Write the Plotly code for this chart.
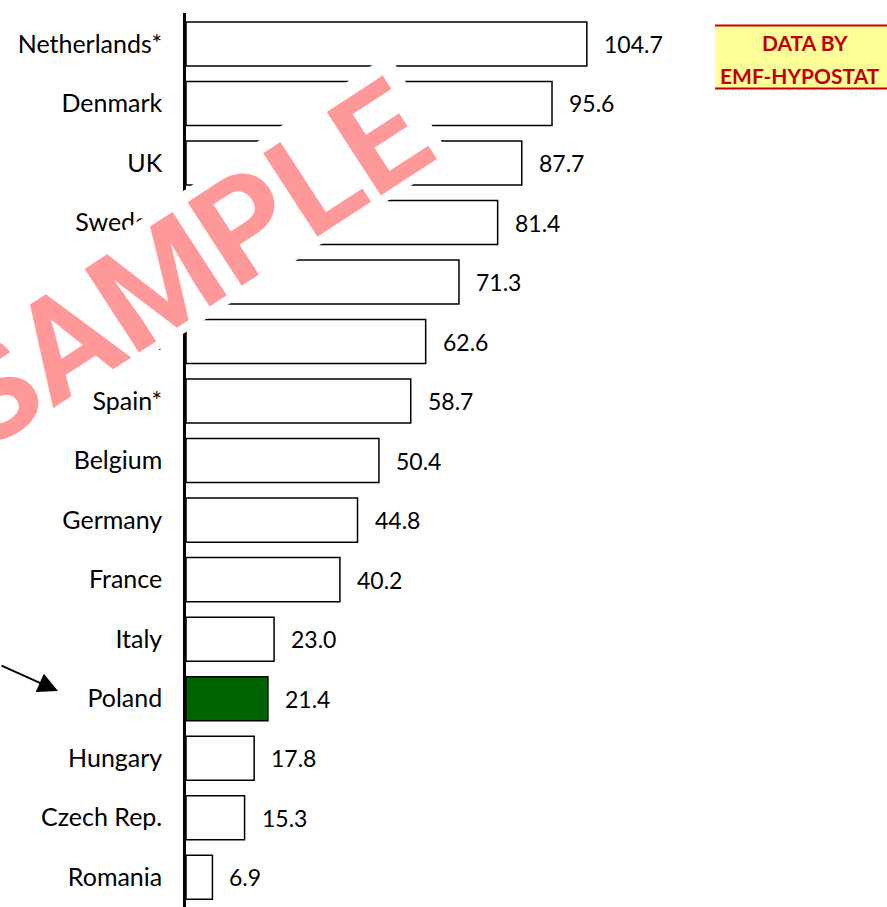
import plotly.graph_objects as go

# ---- data ----
countries = ["Netherlands*", "Denmark", "UK", "Sweden", "Ireland", "Portugal", "Spain*",
             "Belgium", "Germany", "France", "Italy", "Poland", "Hungary", "Czech Rep.", "Romania"]
values = [104.7, 95.6, 87.7, 81.4, 71.3, 62.6, 58.7, 50.4, 44.8, 40.2, 23.0, 21.4, 17.8, 15.3, 6.9]
highlight = "Poland"
value_labels = [f"{v:.1f}" for v in values]
badge_lines = ["DATA BY", "EMF-HYPOSTAT"]
watermark = "SAMPLE"

# ---- layout geometry ----
FIG_W, FIG_H = 887, 907
L, R, T, B = 186, 165, 13, 0
PW = FIG_W - L - R
PH = FIG_H - T - B


def px(x):
    return (x - L) / PW


def py(y):
    return (FIG_H - B - y) / PH


FONT = "Lato"

colors = ["#006400" if c == highlight else "white" for c in countries]

fig = go.Figure(
    go.Bar(
        x=values, y=countries, orientation="h",
        marker=dict(color=colors, line=dict(color="black", width=1.5)),
        width=0.74, hoverinfo="skip",
    )
)

annotations = []
for c, v, t in zip(countries, values, value_labels):
    annotations.append(dict(x=v, y=c, xref="x", yref="y", text=t, showarrow=False,
                            xanchor="left", yanchor="middle", xshift=15,
                            font=dict(family=FONT, size=23, color="black")))

# badge text
annotations.append(dict(x=px(805), y=py(42), xref="paper", yref="paper", text=badge_lines[0],
                        showarrow=False, xanchor="center", yanchor="middle",
                        font=dict(family=FONT, size=21, color="#C00000", weight="bold")))
annotations.append(dict(x=px(800), y=py(76), xref="paper", yref="paper", text=badge_lines[1],
                        showarrow=False, xanchor="center", yanchor="middle",
                        font=dict(family=FONT, size=21, color="#C00000", weight="bold")))

# arrow pointing at Poland
annotations.append(dict(x=px(58), y=py(691), xref="paper", yref="paper", text="",
                        showarrow=True, ax=-58, ay=-26, arrowhead=2, arrowsize=2,
                        arrowwidth=2, arrowcolor="black", standoff=0))

# watermark text
annotations.append(dict(x=px(184), y=py(266), xref="paper", yref="paper", text=watermark,
                        showarrow=False, xanchor="center", yanchor="middle", textangle=-33,
                        font=dict(family="Roboto", size=140, color="rgba(255,0,0,0.4)",
                                  weight="bold")))

# watermark white patch polygon
pts = [(389, 54), (452, 159), (-300, 648), (-300, 513)]
path = "M " + " L ".join(f"{px(x):.5f},{py(y):.5f}" for x, y in pts) + " Z"

shapes = [
    dict(type="path", path=path, xref="paper", yref="paper", fillcolor="white",
         line=dict(width=0), layer="above"),
    dict(type="rect", x0=px(715), x1=px(900), y0=py(89), y1=py(25), xref="paper", yref="paper",
         fillcolor="#FFFF99", line=dict(width=0), layer="above"),
    dict(type="line", x0=px(715), x1=px(900), y0=py(25.5), y1=py(25.5), xref="paper", yref="paper",
         line=dict(color="#CC0000", width=2), layer="above"),
    dict(type="line", x0=px(715), x1=px(900), y0=py(88.5), y1=py(88.5), xref="paper", yref="paper",
         line=dict(color="#CC0000", width=2), layer="above"),
]

fig.update_layout(
    width=FIG_W, height=FIG_H,
    margin=dict(l=L, r=R, t=T, b=B, pad=0, autoexpand=False),
    paper_bgcolor="white", plot_bgcolor="white",
    showlegend=False,
    bargap=0.26,
    xaxis=dict(range=[0, 140], visible=False, fixedrange=True),
    yaxis=dict(range=[14.5, -0.52], showline=True, linecolor="black", linewidth=2.5,
               showgrid=False, zeroline=False, ticks="", ticklabelstandoff=16,
               tickfont=dict(family=FONT, size=25, color="black"), fixedrange=True),
    annotations=annotations,
    shapes=shapes,
)

fig.write_html("out.html", config={"displayModeBar": False},
               post_script="document.body.style.margin='0px';document.body.style.overflow='hidden';")
